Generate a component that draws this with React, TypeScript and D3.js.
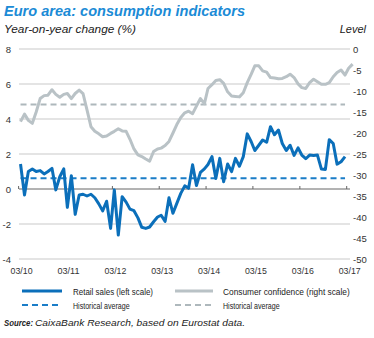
import React from "react";
import * as d3 from "d3";

// ---- data (monthly, first value = March 2010) ----
const retailStart = [2010, 2];
const retailSales = [
  1.43, -0.34, 1.0, 1.14, 1.0, 1.05, 0.86, 1.0, 1.18, -0.05, 0.7, 1.15,
  -1.05, 0.76, -1.45, -0.34, -0.3, -0.4, -0.3, -0.5, -0.85, -1.25, -0.7, -2.25,
  -0.05, -2.63, -0.44, -0.75, -1.15, -1.24, -1.65, -2.19, -2.25, -2.17, -1.87, -1.6,
  -1.5, -1.85, -0.5, -1.39, -0.82, -0.25, 0.18, 0.04, 1.38, 0.2, 0.95, 1.15,
  1.4, 1.85, 0.6, 1.75, 0.42, 1.43, 0.99, 1.75, 1.3, 1.85, 3.15, 2.7,
  2.2, 2.5, 2.8, 2.67, 3.56, 3.1, 3.37, 2.6, 2.2, 2.5, 1.92, 2.35,
  1.94, 1.73, 1.94, 1.92, 1.94, 1.14, 1.12, 2.82, 2.6, 1.42, 1.56, 1.85,
];
const confidenceStart = [2010, 2];
const consumerConfidence = [
  -17.3, -15.5, -17.0, -17.7, -15.0, -11.8, -11.1, -11.0, -9.7, -10.8, -11.5, -10.8,
  -10.6, -11.8, -10.6, -9.8, -10.6, -14.5, -18.5, -19.6, -20.2, -20.9, -20.7, -20.1,
  -19.6, -19.0, -19.5, -19.6, -21.5, -23.8, -25.2, -25.6, -26.2, -26.7, -24.4, -23.8,
  -23.6, -23.0, -22.0, -20.0, -18.0, -16.3, -15.2, -14.8, -15.4, -13.6, -11.8, -13.0,
  -9.4, -8.5, -7.5, -7.3, -8.2, -10.2, -11.2, -11.3, -11.4, -10.4, -8.0, -6.0,
  -4.0, -4.0, -5.2, -5.5, -6.8, -6.9, -7.1, -7.0, -6.6, -6.0, -6.8, -8.3,
  -9.2, -9.4, -8.0, -7.2, -7.8, -8.4, -8.4, -8.0, -6.6, -5.6, -5.0, -6.2,
  -4.6, -3.6,
];
const retailAverage = 0.62;
const confidenceAverage = -13.2;

const xTickYears = [2010, 2011, 2012, 2013, 2014, 2015, 2016, 2017];
const xTickLabels = ["03/10", "03/11", "03/12", "03/13", "03/14", "03/15", "03/16", "03/17"];
const leftTicks = [8, 6, 4, 2, 0, -2, -4];
const rightTicks = [0, -5, -10, -15, -20, -25, -30, -35, -40, -45, -50];

const titleText = "Euro area: consumption indicators";
const leftUnit = "Year-on-year change (%)";
const rightUnit = "Level";
const legendItems = [
  "Retail sales (left scale)",
  "Consumer confidence (right scale)",
  "Historical average",
  "Historical average",
];
const sourceLabel = "Source:";
const sourceText = "CaixaBank Research, based on Eurostat data.";

const BLUE = "#0b6fba";
const BLUE_DASH = "#1a7dc8";
const GRAY = "#b9c2c6";
const GRAY_DASH = "#aeb8bc";
const TITLE = "#1b8bd6";
const FONT = "'Liberation Sans', Arial, sans-serif";

function toPoints(start: number[], values: number[]) {
  return values.map((v, i) => ({ date: new Date(start[0], start[1] + i, 16), v }));
}

export default function App() {
  const W = 374;
  const H = 338;
  const x = d3
    .scaleTime()
    .domain([new Date(2010, 2, 1), new Date(2017, 2, 1)])
    .range([18.6, 346.7]);
  const yL = d3.scaleLinear().domain([-4, 8]).range([259, 49]);
  const yR = d3.scaleLinear().domain([-50, 0]).range([259, 49]);
  const gridX0 = 19;
  const gridX1 = 350;

  const retail = toPoints(retailStart, retailSales);
  const conf = toPoints(confidenceStart, consumerConfidence);

  const lineL = d3
    .line<{ date: Date; v: number }>()
    .x((d) => x(d.date))
    .y((d) => yL(d.v));
  const lineR = d3
    .line<{ date: Date; v: number }>()
    .x((d) => x(d.date))
    .y((d) => yR(d.v));

  const avgX0 = x(retail[0].date);
  const avgX1 = x(retail[retail.length - 1].date);

  return (
    <svg
      width={W}
      height={H}
      style={{ position: "absolute", left: 0, top: 0, background: "#fff" }}
      fontFamily={FONT}
    >
      <rect x={0} y={0} width={W} height={H} fill="#fff" />
      <text x={4} y={15.5} fontSize={14.5} fontWeight="bold" fontStyle="italic" fill={TITLE} textLength={241} lengthAdjust="spacingAndGlyphs">
        {titleText}
      </text>
      <text x={4} y={33} fontSize={11} fontStyle="italic" fill="#222" textLength={132} lengthAdjust="spacingAndGlyphs">
        {leftUnit}
      </text>
      <text x={366} y={33} fontSize={11} fontStyle="italic" fill="#222" textAnchor="end">
        {rightUnit}
      </text>

      {/* grid */}
      {leftTicks
        .filter((t) => t !== 0)
        .map((t) => (
          <line key={"g" + t} x1={gridX0} x2={gridX1} y1={yL(t)} y2={yL(t)} stroke="#c9c9c9" strokeWidth={1} />
        ))}
      {leftTicks.map((t) => (
        <text key={"l" + t} x={11} y={yL(t) + 3.5} fontSize={9.5} fill="#333" textAnchor="end">
          {t}
        </text>
      ))}
      {rightTicks.map((t) => (
        <text key={"r" + t} x={353} y={yR(t) + 3.5} fontSize={9.5} fill="#333" textAnchor="start">
          {t}
        </text>
      ))}

      {/* zero axis */}
      <line x1={gridX0} x2={gridX1} y1={yL(0)} y2={yL(0)} stroke="#666" strokeWidth={1} />
      {xTickYears.map((yr, i) => {
        const tx = x(new Date(yr, 2, 1));
        return (
          <g key={"t" + yr}>
            <line x1={tx} x2={tx} y1={yL(0)} y2={yL(0) - 3} stroke="#666" strokeWidth={1} />
            <text x={tx + 3 - 11} y={274} fontSize={9.5} fill="#333" textLength={22} lengthAdjust="spacingAndGlyphs">
              {xTickLabels[i]}
            </text>
          </g>
        );
      })}

      {/* averages */}
      <line x1={avgX0} x2={avgX1} y1={yR(confidenceAverage)} y2={yR(confidenceAverage)} stroke={GRAY_DASH} strokeWidth={2} strokeDasharray="6,4" />
      <line x1={avgX0} x2={avgX1} y1={yL(retailAverage)} y2={yL(retailAverage)} stroke={BLUE_DASH} strokeWidth={2} strokeDasharray="6,4" />

      {/* series */}
      <path d={lineR(conf) || ""} fill="none" stroke={GRAY} strokeWidth={3} strokeLinejoin="round" />
      <path d={lineL(retail) || ""} fill="none" stroke={BLUE} strokeWidth={3} strokeLinejoin="round" />

      {/* legend */}
      <line x1={22} x2={62} y1={291} y2={291} stroke={BLUE} strokeWidth={3} />
      <text x={73} y={294.5} fontSize={9.5} fill="#222" textLength={80} lengthAdjust="spacingAndGlyphs">
        {legendItems[0]}
      </text>
      <line x1={175} x2={213} y1={291} y2={291} stroke={GRAY} strokeWidth={3} />
      <text x={223} y={294.5} fontSize={9.5} fill="#222" textLength={126.7} lengthAdjust="spacingAndGlyphs">
        {legendItems[1]}
      </text>
      <line x1={22} x2={62} y1={305} y2={305} stroke={BLUE_DASH} strokeWidth={2} strokeDasharray="6,4" />
      <text x={73} y={308.5} fontSize={9.5} fill="#222" textLength={56.6} lengthAdjust="spacingAndGlyphs">
        {legendItems[2]}
      </text>
      <line x1={175} x2={213} y1={305} y2={305} stroke={GRAY_DASH} strokeWidth={2} strokeDasharray="6,4" />
      <text x={223} y={308.5} fontSize={9.5} fill="#222" textLength={56.6} lengthAdjust="spacingAndGlyphs">
        {legendItems[3]}
      </text>

      {/* source */}
      <text x={4} y={326} fontSize={8.5} fontStyle="italic" fontWeight="bold" fill="#222" textLength={29} lengthAdjust="spacingAndGlyphs">
        {sourceLabel}
      </text>
      <text x={35} y={326} fontSize={8.5} fontStyle="italic" fill="#222" textLength={210} lengthAdjust="spacingAndGlyphs">
        {sourceText}
      </text>
    </svg>
  );
}
